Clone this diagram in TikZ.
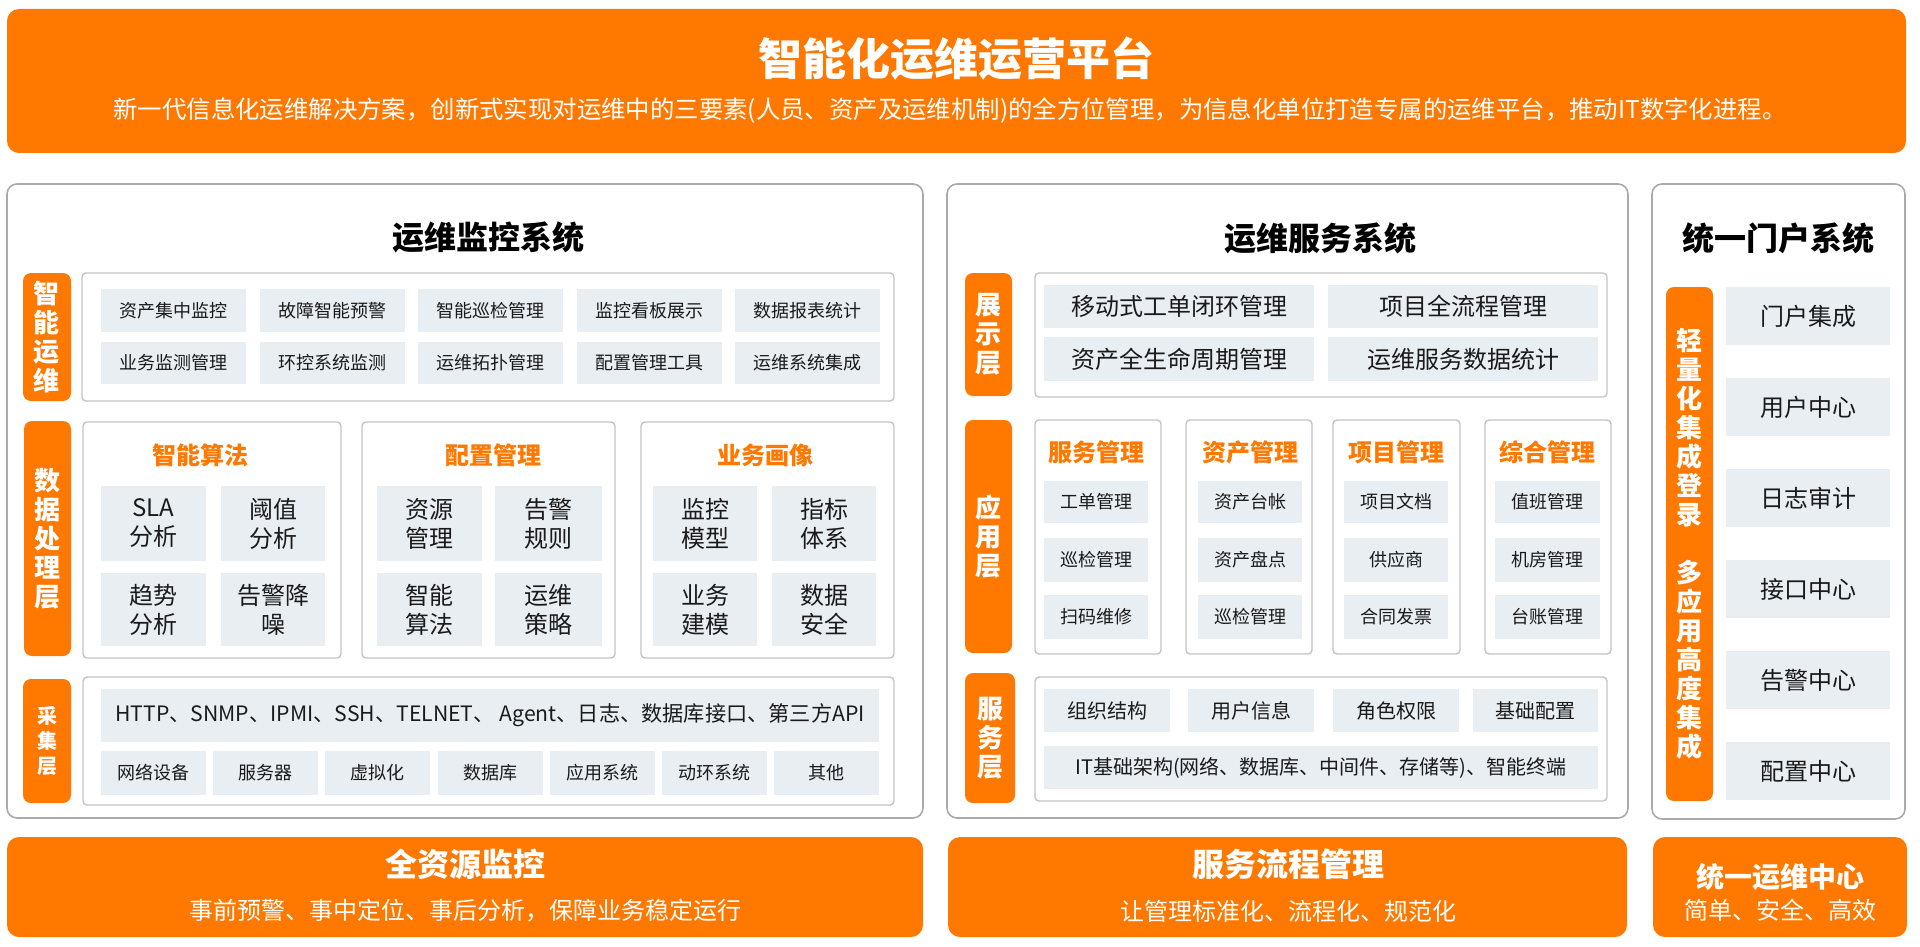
\documentclass[tikz,border=0pt]{standalone}
\usepackage{fontspec}
\setmainfont{Noto Sans CJK SC}
\definecolor{brandorange}{HTML}{FF7800}
\definecolor{itemgrey}{HTML}{E9EEF3}
\definecolor{sysgrey}{HTML}{AAAAAA}
\definecolor{innergrey}{HTML}{C4C4C4}
\definecolor{textdark}{HTML}{1A1A1A}
\newcommand\mkbox[7]{\node[#1, minimum width={(#5)-(#3)}, minimum height={(#6)-(#4)}] (#2) at ({((#3)+(#5))/2},{((#4)+(#6))/2}) {#7};}
\tikzset{
  banner/.style={fill=brandorange, rounded corners=12pt, inner sep=0pt, outer sep=0pt},
  sysbox/.style={draw=sysgrey, line width=1.6pt, fill=white, rounded corners=10pt, inner sep=0pt},
  innerbox/.style={draw=innergrey, line width=1.4pt, fill=white, rounded corners=4pt, inner sep=0pt},
  layerlabel/.style={fill=brandorange, rounded corners=8pt, text=white, font=\bfseries\fontsize{26}{29}\selectfont, align=center, inner sep=0pt},
  smalllabel/.style={layerlabel, font=\bfseries\fontsize{20}{25}\selectfont},
  item/.style={fill=itemgrey, inner sep=0pt, text=textdark, font=\fontsize{18}{22}\selectfont, align=center},
  bigitem/.style={item, font=\fontsize{24}{29}\selectfont},
  miditem/.style={item, font=\fontsize{20}{24}\selectfont},
  systitle/.style={text=black, font=\bfseries\fontsize{32}{36}\selectfont, inner sep=0pt},
  subtitle/.style={text=brandorange, font=\bfseries\fontsize{24}{28}\selectfont, inner sep=0pt},
  bannertitle/.style={text=white, font=\bfseries\fontsize{32}{36}\selectfont, inner sep=0pt},
  bannertext/.style={text=white, font=\fontsize{24}{28}\selectfont, inner sep=0pt},
}
\begin{document}
\begin{tikzpicture}[x=1pt,y=-1pt]
\useasboundingbox (0,0) rectangle (1920,947);
% ---------- top banner ----------
\mkbox{banner}{top}{7}{9}{1906}{153}{}
\node[text=white, font=\bfseries\fontsize{44}{50}\selectfont, inner sep=0pt] (toptitle) at (956,59) {智能化运维运营平台};
\node[text=white, font=\fontsize{24.4}{28}\selectfont, inner sep=0pt] (toptext) at (950,111) {新一代信息化运维解决方案，创新式实现对运维中的三要素(人员、资产及运维机制)的全方位管理，为信息化单位打造专属的运维平台，推动IT数字化进程。};

% ---------- left system ----------
\mkbox{sysbox}{sysL}{7}{184}{923}{818}{}
\node[systitle] (titleL) at (488,237) {运维监控系统};
% row 1
\mkbox{layerlabel}{labL1}{23}{273}{71}{401}{智\\能\\运\\维}
\mkbox{innerbox}{innL1}{82}{273}{894}{401}{}
\foreach \t [count=\i from 0] in {资产集中监控,故障智能预警,智能巡检管理,监控看板展示,数据报表统计}{
  \pgfmathsetmacro\xa{101+158.5*\i}\pgfmathsetmacro\xb{\xa+145}
  \mkbox{item}{la\i}{\xa}{289}{\xb}{332}{\t}
}
\foreach \t [count=\i from 0] in {业务监测管理,环控系统监测,运维拓扑管理,配置管理工具,运维系统集成}{
  \pgfmathsetmacro\xa{101+158.5*\i}\pgfmathsetmacro\xb{\xa+145}
  \mkbox{item}{lb\i}{\xa}{342}{\xb}{384}{\t}
}
% row 2
\mkbox{layerlabel}{labL2}{24}{421}{71}{656}{数\\据\\处\\理\\层}
\mkbox{innerbox}{subA}{83}{422}{341}{658}{}
\mkbox{innerbox}{subB}{362}{422}{615}{658}{}
\mkbox{innerbox}{subC}{641}{422}{894}{658}{}
\node[subtitle] (tA) at (200,455) {智能算法};
\node[subtitle] (tB) at (493,455) {配置管理};
\node[subtitle] (tC) at (765,455) {业务画像};
\mkbox{bigitem}{a1}{101}{486}{206}{561}{SLA\\分析}
\mkbox{bigitem}{a2}{221}{486}{325}{561}{阈值\\分析}
\mkbox{bigitem}{a3}{101}{573}{206}{646}{趋势\\分析}
\mkbox{bigitem}{a4}{221}{573}{325}{646}{告警降\\噪}
\mkbox{bigitem}{b1}{377}{486}{482}{561}{资源\\管理}
\mkbox{bigitem}{b2}{495}{486}{602}{561}{告警\\规则}
\mkbox{bigitem}{b3}{377}{573}{482}{646}{智能\\算法}
\mkbox{bigitem}{b4}{495}{573}{602}{646}{运维\\策略}
\mkbox{bigitem}{c1}{653}{486}{757}{561}{监控\\模型}
\mkbox{bigitem}{c2}{772}{486}{876}{561}{指标\\体系}
\mkbox{bigitem}{c3}{653}{573}{757}{646}{业务\\建模}
\mkbox{bigitem}{c4}{772}{573}{876}{646}{数据\\安全}
% row 3
\mkbox{smalllabel}{labL3}{23}{679}{71}{803}{采\\集\\层}
\mkbox{innerbox}{innL3}{83}{677}{894}{805}{}
\mkbox{item}{proto}{101}{689}{879}{742}{\fontsize{21.2}{25}\selectfont HTTP、SNMP、IPMI、SSH、TELNET、 Agent、日志、数据库接口、第三方API}
\foreach \t [count=\i from 0] in {网络设备,服务器,虚拟化,数据库,应用系统,动环系统,其他}{
  \pgfmathsetmacro\xa{101+112.2*\i}\pgfmathsetmacro\xb{\xa+105}
  \mkbox{item}{src\i}{\xa}{751}{\xb}{795}{\t}
}
% bottom left banner
\mkbox{banner}{botL}{7}{837}{923}{937}{}
\node[bannertitle] (botLt) at (465,864) {全资源监控};
\node[bannertext] (botLs) at (465,911) {事前预警、事中定位、事后分析，保障业务稳定运行};

% ---------- middle system ----------
\mkbox{sysbox}{sysM}{947}{184}{1628}{818}{}
\node[systitle] (titleM) at (1320,238) {运维服务系统};
\mkbox{layerlabel}{labM1}{965}{273}{1012}{396}{展\\示\\层}
\mkbox{innerbox}{innM1}{1035}{273}{1607}{397}{}
\mkbox{bigitem}{m11}{1044}{285}{1314}{328}{移动式工单闭环管理}
\mkbox{bigitem}{m12}{1328}{285}{1598}{328}{项目全流程管理}
\mkbox{bigitem}{m13}{1044}{337}{1314}{381}{资产全生命周期管理}
\mkbox{bigitem}{m14}{1328}{337}{1598}{381}{运维服务数据统计}
\mkbox{layerlabel}{labM2}{965}{420}{1012}{653}{应\\用\\层}
\mkbox{innerbox}{sm1}{1035}{420}{1161}{654}{}
\mkbox{innerbox}{sm2}{1186}{420}{1312}{654}{}
\mkbox{innerbox}{sm3}{1333}{420}{1460}{654}{}
\mkbox{innerbox}{sm4}{1485}{420}{1611}{654}{}
\node[subtitle] (tm1) at (1096,452) {服务管理};
\node[subtitle] (tm2) at (1250,452) {资产管理};
\node[subtitle] (tm3) at (1396,452) {项目管理};
\node[subtitle] (tm4) at (1547,452) {综合管理};
\foreach \xa/\xb/\p/\ta/\tb/\tc in {1044/1148/s/工单管理/巡检管理/扫码维修, 1198/1302/z/资产台帐/资产盘点/巡检管理, 1344/1448/x/项目文档/供应商/合同发票, 1495/1600/h/值班管理/机房管理/台账管理}{
  \mkbox{item}{\p1}{\xa}{481}{\xb}{523}{\ta}
  \mkbox{item}{\p2}{\xa}{538}{\xb}{582}{\tb}
  \mkbox{item}{\p3}{\xa}{595}{\xb}{639}{\tc}
}
\mkbox{layerlabel}{labM3}{965}{673}{1015}{803}{服\\务\\层}
\mkbox{innerbox}{innM3}{1035}{677}{1607}{801}{}
\mkbox{miditem}{f1}{1044}{689}{1170}{732}{组织结构}
\mkbox{miditem}{f2}{1188}{689}{1314}{732}{用户信息}
\mkbox{miditem}{f3}{1333}{689}{1459}{732}{角色权限}
\mkbox{miditem}{f4}{1473}{689}{1598}{732}{基础配置}
\mkbox{miditem}{f5}{1044}{746}{1598}{789}{IT基础架构(网络、数据库、中间件、存储等)、智能终端}
% bottom middle banner
\mkbox{banner}{botM}{948}{837}{1627}{937}{}
\node[bannertitle] (botMt) at (1288,864) {服务流程管理};
\node[bannertext] (botMs) at (1288,911) {让管理标准化、流程化、规范化};

% ---------- right system ----------
\mkbox{sysbox}{sysR}{1652}{184}{1905}{819}{}
\node[systitle] (titleR) at (1778,238) {统一门户系统};
\mkbox{layerlabel}{labR}{1666}{287}{1713}{801}{轻\\量\\化\\集\\成\\登\\录\\[29pt]多\\应\\用\\高\\度\\集\\成}
\foreach \t [count=\i from 0] in {门户集成,用户中心,日志审计,接口中心,告警中心,配置中心}{
  \pgfmathsetmacro\ya{287+91*\i}\pgfmathsetmacro\yb{\ya+58}
  \mkbox{bigitem}{r\i}{1726}{\ya}{1890}{\yb}{\t}
}
% bottom right banner
\mkbox{banner}{botR}{1653}{837}{1907}{937}{}
\node[text=white, font=\bfseries\fontsize{28}{32}\selectfont, inner sep=0pt] (botRt) at (1780,877) {统一运维中心};
\node[bannertext] (botRs) at (1780,910) {简单、安全、高效};
\end{tikzpicture}
\end{document}
